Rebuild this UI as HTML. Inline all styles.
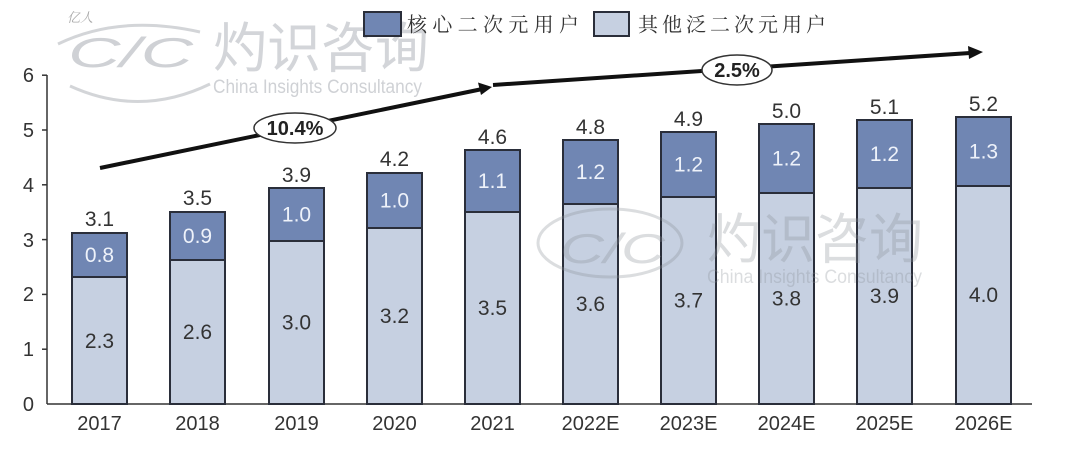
<!DOCTYPE html>
<html>
<head>
<meta charset="utf-8">
<style>
html,body{margin:0;padding:0;background:#fff;}
svg{display:block;}
</style>
</head>
<body>
<svg width="1080" height="454" viewBox="0 0 1080 454" xmlns="http://www.w3.org/2000/svg">
  <rect width="1080" height="454" fill="#ffffff"/>

  <!-- Top-left watermark -->
  <g opacity="0.5">
    <text x="67" y="22" font-family="'Liberation Serif','Noto Serif CJK SC',serif" font-style="italic" font-size="13" fill="#555">亿人</text>
    <path d="M 58 44 Q 120 14 200 32" fill="none" stroke="#a8acb2" stroke-width="3"/>
    <path d="M 70 86 Q 140 118 210 84" fill="none" stroke="#a8acb2" stroke-width="3"/>
    <text x="68" y="67" font-family="'Liberation Sans',sans-serif" font-style="italic" font-size="42" fill="#a0a5ac" textLength="125" lengthAdjust="spacingAndGlyphs">C/C</text>
    <text x="213" y="67" font-family="'Liberation Sans','Noto Sans CJK SC',sans-serif" font-size="54" fill="#a8adb4">灼识咨询</text>
    <text x="213" y="93" font-family="'Liberation Sans',sans-serif" font-size="19" fill="#a0a5ac" textLength="209" lengthAdjust="spacingAndGlyphs">China Insights Consultancy</text>
  </g>

  <!-- Legend -->
  <rect x="364" y="12" width="37" height="24" fill="#7086b3" stroke="#2a2e3a" stroke-width="2"/>
  <text x="407" y="31.5" font-family="'Liberation Sans','Noto Serif CJK SC',serif" font-size="20" fill="#333" textLength="172" lengthAdjust="spacing">核心二次元用户</text>
  <rect x="594" y="12" width="35" height="24" fill="#c6d0e1" stroke="#2a2e3a" stroke-width="2"/>
  <text x="638" y="31.5" font-family="'Liberation Sans','Noto Serif CJK SC',serif" font-size="20" fill="#333" textLength="188" lengthAdjust="spacing">其他泛二次元用户</text>

  <!-- Y axis -->
  <g stroke="#333" stroke-width="1.5">
    <line x1="47" y1="75" x2="47" y2="404"/>
    <line x1="47" y1="404" x2="1032" y2="404"/>
    <line x1="42" y1="75.2" x2="47" y2="75.2"/>
    <line x1="42" y1="130" x2="47" y2="130"/>
    <line x1="42" y1="184.8" x2="47" y2="184.8"/>
    <line x1="42" y1="239.6" x2="47" y2="239.6"/>
    <line x1="42" y1="294.4" x2="47" y2="294.4"/>
    <line x1="42" y1="349.2" x2="47" y2="349.2"/>
  </g>
  <g font-family="'Liberation Sans',sans-serif" font-size="20" fill="#333" text-anchor="end">
    <text x="34" y="411">0</text>
    <text x="34" y="356">1</text>
    <text x="34" y="301">2</text>
    <text x="34" y="247">3</text>
    <text x="34" y="192">4</text>
    <text x="34" y="137">5</text>
    <text x="34" y="82">6</text>
  </g>

  <!-- Bars -->
  <g stroke="#2a2e3a" stroke-width="2">
    <rect x="72" y="277" width="55" height="127" fill="#c6d0e1"/><rect x="72" y="233" width="55" height="44" fill="#7086b3"/>
    <rect x="170" y="260" width="55" height="144" fill="#c6d0e1"/><rect x="170" y="212" width="55" height="48" fill="#7086b3"/>
    <rect x="269" y="241" width="55" height="163" fill="#c6d0e1"/><rect x="269" y="188" width="55" height="53" fill="#7086b3"/>
    <rect x="367" y="228" width="55" height="176" fill="#c6d0e1"/><rect x="367" y="173" width="55" height="55" fill="#7086b3"/>
    <rect x="465" y="212" width="55" height="192" fill="#c6d0e1"/><rect x="465" y="150" width="55" height="62" fill="#7086b3"/>
    <rect x="563" y="204" width="55" height="200" fill="#c6d0e1"/><rect x="563" y="140" width="55" height="64" fill="#7086b3"/>
    <rect x="661" y="197" width="55" height="207" fill="#c6d0e1"/><rect x="661" y="132" width="55" height="65" fill="#7086b3"/>
    <rect x="759" y="193" width="55" height="211" fill="#c6d0e1"/><rect x="759" y="124" width="55" height="69" fill="#7086b3"/>
    <rect x="857" y="188" width="55" height="216" fill="#c6d0e1"/><rect x="857" y="120" width="55" height="68" fill="#7086b3"/>
    <rect x="956" y="186" width="55" height="218" fill="#c6d0e1"/><rect x="956" y="117" width="55" height="69" fill="#7086b3"/>
  </g>

  <!-- Total labels -->
  <g font-family="'Liberation Sans',sans-serif" font-size="21" fill="#333" text-anchor="middle">
    <text x="99.5" y="226">3.1</text>
    <text x="197.5" y="205">3.5</text>
    <text x="296.5" y="182">3.9</text>
    <text x="394.5" y="166">4.2</text>
    <text x="492.5" y="144">4.6</text>
    <text x="590.5" y="134">4.8</text>
    <text x="688.5" y="126">4.9</text>
    <text x="786.5" y="118">5.0</text>
    <text x="884.5" y="114">5.1</text>
    <text x="983.5" y="111">5.2</text>
  </g>

  <!-- Dark segment labels -->
  <g font-family="'Liberation Sans',sans-serif" font-size="21" fill="#eef2fa" text-anchor="middle">
    <text x="99.5" y="262">0.8</text>
    <text x="197.5" y="243">0.9</text>
    <text x="296.5" y="221.5">1.0</text>
    <text x="394.5" y="207.5">1.0</text>
    <text x="492.5" y="188">1.1</text>
    <text x="590.5" y="179">1.2</text>
    <text x="688.5" y="171.5">1.2</text>
    <text x="786.5" y="165.5">1.2</text>
    <text x="884.5" y="161">1.2</text>
    <text x="983.5" y="158.5">1.3</text>
  </g>

  <!-- Light segment labels -->
  <g font-family="'Liberation Sans',sans-serif" font-size="21" fill="#333" text-anchor="middle">
    <text x="99.5" y="348">2.3</text>
    <text x="197.5" y="339">2.6</text>
    <text x="296.5" y="329.5">3.0</text>
    <text x="394.5" y="323">3.2</text>
    <text x="492.5" y="315">3.5</text>
    <text x="590.5" y="311">3.6</text>
    <text x="688.5" y="307.5">3.7</text>
    <text x="786.5" y="305.5">3.8</text>
    <text x="884.5" y="303">3.9</text>
    <text x="983.5" y="302">4.0</text>
  </g>

  <!-- X labels -->
  <g font-family="'Liberation Sans',sans-serif" font-size="20" fill="#333" text-anchor="middle">
    <text x="99.5" y="430">2017</text>
    <text x="197.5" y="430">2018</text>
    <text x="296.5" y="430">2019</text>
    <text x="394.5" y="430">2020</text>
    <text x="492.5" y="430">2021</text>
    <text x="590.5" y="430">2022E</text>
    <text x="688.5" y="430">2023E</text>
    <text x="786.5" y="430">2024E</text>
    <text x="884.5" y="430">2025E</text>
    <text x="983.5" y="430">2026E</text>
  </g>

  <!-- Middle watermark -->
  <g opacity="0.3">
    <ellipse cx="610" cy="243" rx="72" ry="34" fill="none" stroke="#8a9098" stroke-width="3"/>
    <text x="560" y="263" font-family="'Liberation Sans',sans-serif" font-style="italic" font-size="42" fill="#8a9098" textLength="105" lengthAdjust="spacingAndGlyphs">C/C</text>
    <text x="707" y="258" font-family="'Liberation Sans','Noto Sans CJK SC',sans-serif" font-size="54" fill="#8a9098">灼识咨询</text>
    <text x="707" y="283" font-family="'Liberation Sans',sans-serif" font-size="19" fill="#8a9098" textLength="215" lengthAdjust="spacingAndGlyphs">China Insights Consultancy</text>
  </g>

  <!-- Growth arrows -->
  <line x1="100" y1="168" x2="480" y2="89.5" stroke="#111" stroke-width="4"/>
  <polygon points="492,87 478,82.5 481,95" fill="#111"/>
  <line x1="493" y1="85" x2="970" y2="53" stroke="#111" stroke-width="4"/>
  <polygon points="983,52 968,46 969,59" fill="#111"/>

  <ellipse cx="295" cy="128" rx="41" ry="15" fill="#fff" stroke="#333" stroke-width="1.5"/>
  <text x="295" y="135" font-family="'Liberation Sans',sans-serif" font-weight="bold" font-size="20" fill="#222" text-anchor="middle">10.4%</text>
  <ellipse cx="737" cy="70" rx="35" ry="15" fill="#fff" stroke="#333" stroke-width="1.5"/>
  <text x="737" y="77" font-family="'Liberation Sans',sans-serif" font-weight="bold" font-size="20" fill="#222" text-anchor="middle">2.5%</text>
</svg>
</body>
</html>
